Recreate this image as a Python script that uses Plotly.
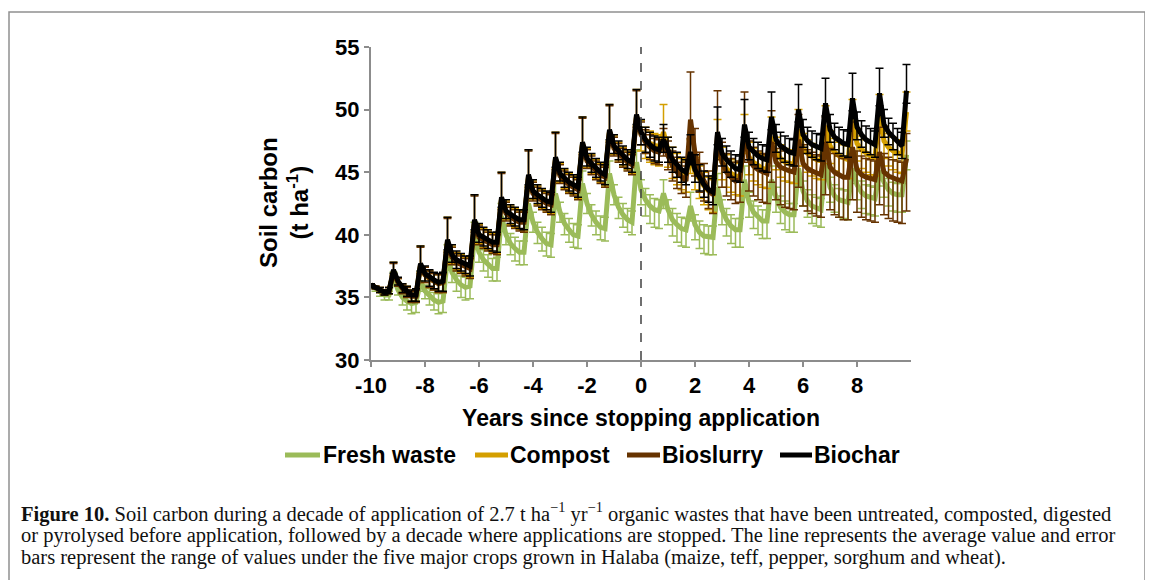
import plotly.graph_objects as go

# x grid: every 2 months from -10 to 9.83 years
years = [-10 + i / 6 for i in range(120)]

fresh_waste = [
    [36.0, 35.7, 35.4, 35.2, 35.2, 36.6],
    [35.6, 35.0, 34.7, 34.5, 34.6, 36.3],
    [35.5, 35.1, 34.8, 34.6, 34.7, 38.2],
    [37.0, 36.4, 36.0, 35.8, 35.9, 40.0],
    [38.6, 38.0, 37.6, 37.3, 37.3, 41.5],
    [40.0, 39.3, 38.9, 38.6, 38.6, 42.5],
    [41.0, 40.2, 39.7, 39.3, 39.2, 43.3],
    [41.8, 40.9, 40.4, 40.0, 39.9, 44.1],
    [42.5, 41.6, 41.0, 40.6, 40.5, 44.9],
    [43.2, 42.2, 41.6, 41.2, 41.0, 45.8],
    [43.6, 42.8, 42.3, 42.0, 41.9, 43.3],
    [42.0, 41.2, 40.8, 40.5, 40.4, 42.3],
    [40.8, 40.2, 39.9, 39.8, 39.8, 43.8],
    [42.0, 41.2, 40.7, 40.4, 40.4, 44.4],
    [42.6, 41.8, 41.4, 41.1, 41.1, 44.4],
    [43.0, 42.2, 41.8, 41.6, 41.6, 45.3],
    [43.5, 42.7, 42.3, 42.1, 42.0, 45.7],
    [43.8, 43.1, 42.8, 42.7, 42.6, 45.3],
    [44.0, 43.4, 43.1, 43.0, 42.9, 45.1],
    [44.2, 43.6, 43.3, 43.2, 43.2, 46.4],
]
fresh_up = [
    [0.1, 0.1, 0.2, 0.3, 0.3, 0.4],
    [0.3, 0.4, 0.5, 0.5, 0.6, 0.8],
    [0.5, 0.6, 0.6, 0.7, 0.7, 1.0],
    [0.6, 0.7, 0.7, 0.8, 0.8, 1.0],
    [0.7, 0.8, 0.8, 0.8, 0.9, 1.0],
    [0.8, 0.8, 0.9, 0.9, 0.9, 1.0],
    [0.8, 0.8, 0.9, 0.9, 0.9, 1.0],
    [0.8, 0.8, 0.9, 0.9, 0.9, 1.0],
    [0.8, 0.8, 0.9, 0.9, 0.9, 1.0],
    [0.8, 0.8, 0.9, 0.9, 0.9, 1.0],
    [0.8, 0.9, 0.9, 0.9, 0.9, 1.1],
    [0.8, 0.9, 0.9, 0.9, 0.9, 1.1],
    [0.8, 0.9, 0.9, 0.9, 0.9, 1.1],
    [0.8, 0.9, 0.9, 0.9, 0.9, 1.1],
    [0.8, 0.9, 0.9, 0.9, 0.9, 1.1],
    [0.8, 0.9, 0.9, 0.9, 0.9, 1.1],
    [0.8, 0.9, 0.9, 0.9, 0.9, 1.1],
    [0.8, 0.9, 0.9, 0.9, 0.9, 1.1],
    [0.8, 0.9, 0.9, 0.9, 0.9, 1.1],
    [0.8, 0.9, 0.9, 0.9, 0.9, 1.1],
]
fresh_dn = [
    [0.1, 0.2, 0.3, 0.4, 0.4, 0.4],
    [0.4, 0.6, 0.7, 0.8, 0.8, 0.8],
    [0.6, 0.7, 0.8, 0.9, 0.9, 0.9],
    [0.8, 0.9, 1.0, 1.0, 1.0, 1.0],
    [0.8, 0.9, 1.0, 1.0, 1.0, 1.0],
    [0.8, 0.9, 1.0, 1.0, 1.0, 1.0],
    [0.8, 0.9, 1.0, 1.0, 1.0, 1.0],
    [0.8, 0.9, 1.0, 1.0, 1.0, 1.0],
    [0.8, 0.9, 1.0, 1.0, 1.0, 1.0],
    [0.8, 0.9, 1.0, 1.0, 1.0, 1.0],
    [1.2, 1.3, 1.4, 1.4, 1.4, 1.2],
    [1.2, 1.3, 1.4, 1.4, 1.4, 1.2],
    [1.2, 1.3, 1.4, 1.4, 1.4, 1.2],
    [1.2, 1.3, 1.4, 1.4, 1.4, 1.2],
    [1.2, 1.3, 1.4, 1.4, 1.4, 1.2],
    [1.2, 1.3, 1.4, 1.4, 1.4, 1.2],
    [1.2, 1.3, 1.4, 1.4, 1.4, 1.2],
    [1.2, 1.3, 1.4, 1.4, 1.4, 1.2],
    [1.2, 1.3, 1.4, 1.4, 1.4, 1.2],
    [1.2, 1.3, 1.4, 1.4, 1.4, 1.2],
]

compost = [
    [36.0, 35.8, 35.6, 35.4, 35.5, 37.1],
    [36.2, 35.8, 35.5, 35.2, 35.2, 37.6],
    [36.8, 36.5, 36.3, 36.1, 36.2, 39.5],
    [38.3, 37.9, 37.7, 37.5, 37.4, 41.1],
    [39.9, 39.7, 39.5, 39.3, 39.3, 42.9],
    [41.8, 41.5, 41.3, 41.1, 41.1, 44.7],
    [43.4, 43.1, 42.8, 42.6, 42.5, 46.1],
    [44.8, 44.4, 44.1, 43.9, 43.7, 47.3],
    [46.0, 45.6, 45.2, 44.9, 44.7, 48.3],
    [47.0, 46.6, 46.2, 45.9, 45.7, 49.5],
    [48.1, 47.6, 47.3, 47.1, 47.0, 48.2],
    [46.8, 46.0, 45.5, 45.1, 44.9, 46.4],
    [45.0, 44.4, 43.9, 43.5, 43.3, 47.6],
    [45.8, 45.3, 44.9, 44.7, 44.6, 48.0],
    [46.2, 45.8, 45.5, 45.3, 45.2, 47.8],
    [46.6, 46.1, 45.8, 45.7, 45.6, 48.4],
    [46.9, 46.5, 46.2, 46.0, 45.9, 48.7],
    [47.1, 46.6, 46.3, 46.1, 46.0, 49.2],
    [47.3, 46.8, 46.5, 46.3, 46.2, 49.6],
    [47.5, 47.0, 46.7, 46.5, 46.4, 49.8],
]
compost_up = [
    [0.1, 0.1, 0.2, 0.2, 0.3, 0.7],
    [0.3, 0.3, 0.4, 0.4, 0.5, 1.5],
    [0.6, 0.6, 0.6, 0.7, 0.7, 1.9],
    [0.8, 0.7, 0.7, 0.7, 0.8, 2.1],
    [0.9, 0.8, 0.8, 0.8, 0.8, 2.1],
    [0.9, 0.8, 0.8, 0.8, 0.8, 2.1],
    [0.9, 0.8, 0.8, 0.8, 0.8, 2.1],
    [0.9, 0.8, 0.8, 0.8, 0.8, 2.1],
    [0.9, 0.8, 0.8, 0.8, 0.8, 2.1],
    [0.9, 0.8, 0.8, 0.8, 0.8, 2.1],
    [1.0, 1.0, 1.0, 1.0, 1.0, 2.2],
    [1.0, 1.0, 1.0, 1.0, 1.0, 1.2],
    [1.2, 1.1, 1.1, 1.1, 1.1, 1.6],
    [1.2, 1.1, 1.1, 1.1, 1.1, 1.6],
    [1.2, 1.1, 1.1, 1.1, 1.1, 1.6],
    [1.2, 1.1, 1.1, 1.1, 1.1, 1.6],
    [1.2, 1.1, 1.1, 1.1, 1.1, 1.6],
    [1.2, 1.1, 1.1, 1.1, 1.1, 1.6],
    [1.2, 1.1, 1.1, 1.1, 1.1, 1.6],
    [1.2, 1.1, 1.1, 1.1, 1.1, 1.6],
]
compost_dn = [
    [0.1, 0.1, 0.2, 0.2, 0.2, 0.3],
    [0.3, 0.4, 0.4, 0.5, 0.5, 0.6],
    [0.6, 0.7, 0.7, 0.7, 0.8, 0.8],
    [0.6, 0.7, 0.7, 0.7, 0.8, 0.8],
    [0.6, 0.7, 0.7, 0.7, 0.8, 0.8],
    [0.6, 0.7, 0.7, 0.7, 0.8, 0.8],
    [0.6, 0.7, 0.7, 0.7, 0.8, 0.8],
    [0.6, 0.7, 0.7, 0.7, 0.8, 0.8],
    [0.6, 0.7, 0.7, 0.7, 0.8, 0.8],
    [0.6, 0.7, 0.7, 0.7, 0.8, 0.8],
    [1.4, 1.5, 1.5, 1.5, 1.5, 1.5],
    [1.4, 1.5, 1.5, 1.5, 1.5, 1.5],
    [1.4, 1.5, 1.5, 1.5, 1.5, 1.5],
    [1.4, 1.5, 1.5, 1.5, 1.5, 1.5],
    [1.4, 1.5, 1.5, 1.5, 1.5, 1.5],
    [1.4, 1.5, 1.5, 1.5, 1.5, 1.5],
    [1.4, 1.5, 1.5, 1.5, 1.5, 1.5],
    [1.4, 1.5, 1.5, 1.5, 1.5, 1.5],
    [1.4, 1.5, 1.5, 1.5, 1.5, 1.5],
    [1.4, 1.5, 1.5, 1.5, 1.5, 1.5],
]

bioslurry = [
    [36.0, 35.8, 35.6, 35.4, 35.5, 37.0],
    [36.2, 35.7, 35.4, 35.1, 35.1, 37.5],
    [36.8, 36.5, 36.3, 36.1, 36.2, 39.4],
    [38.2, 37.8, 37.6, 37.4, 37.3, 41.0],
    [39.8, 39.6, 39.4, 39.2, 39.2, 42.8],
    [41.7, 41.4, 41.2, 41.0, 41.0, 44.6],
    [43.3, 43.0, 42.7, 42.5, 42.4, 46.0],
    [44.7, 44.3, 44.0, 43.8, 43.6, 47.2],
    [45.9, 45.5, 45.1, 44.8, 44.6, 48.2],
    [46.9, 46.5, 46.1, 45.8, 45.6, 49.4],
    [48.0, 47.4, 47.0, 46.7, 46.6, 47.3],
    [46.3, 45.5, 45.0, 44.6, 44.3, 49.2],
    [46.5, 45.0, 44.2, 43.6, 43.2, 48.0],
    [45.8, 45.0, 44.6, 44.3, 44.4, 48.4],
    [46.0, 45.5, 45.2, 45.0, 44.9, 47.4],
    [45.8, 45.4, 45.2, 45.1, 45.0, 47.6],
    [45.7, 45.3, 45.1, 44.9, 44.8, 47.4],
    [45.4, 45.0, 44.8, 44.6, 44.6, 47.0],
    [45.2, 44.8, 44.6, 44.5, 44.4, 46.6],
    [45.0, 44.7, 44.5, 44.4, 44.3, 46.1],
]
bioslurry_up = [
    [0.1, 0.1, 0.2, 0.2, 0.3, 0.7],
    [0.3, 0.3, 0.4, 0.4, 0.5, 1.5],
    [0.6, 0.6, 0.6, 0.7, 0.7, 1.9],
    [0.8, 0.7, 0.7, 0.7, 0.8, 2.1],
    [0.9, 0.8, 0.8, 0.8, 0.8, 2.1],
    [0.9, 0.8, 0.8, 0.8, 0.8, 2.1],
    [0.9, 0.8, 0.8, 0.8, 0.8, 2.1],
    [0.9, 0.8, 0.8, 0.8, 0.8, 2.1],
    [0.9, 0.8, 0.8, 0.8, 0.8, 2.1],
    [0.9, 0.8, 0.8, 0.8, 0.8, 2.1],
    [1.0, 1.0, 1.0, 1.0, 1.0, 1.2],
    [1.2, 1.2, 1.2, 1.2, 1.2, 3.8],
    [2.0, 1.6, 1.5, 1.5, 1.5, 3.5],
    [1.6, 1.5, 1.5, 1.5, 1.5, 3.0],
    [1.5, 1.5, 1.5, 1.5, 1.5, 2.5],
    [1.5, 1.5, 1.5, 1.5, 1.5, 2.0],
    [1.5, 1.5, 1.5, 1.5, 1.5, 2.0],
    [1.5, 1.5, 1.5, 1.5, 1.5, 2.0],
    [1.5, 1.5, 1.5, 1.5, 1.5, 2.0],
    [1.5, 1.5, 1.5, 1.5, 1.5, 2.0],
]
bioslurry_dn = [
    [0.1, 0.1, 0.2, 0.2, 0.2, 0.3],
    [0.3, 0.4, 0.4, 0.5, 0.5, 0.6],
    [0.6, 0.7, 0.7, 0.7, 0.8, 0.8],
    [0.6, 0.7, 0.7, 0.7, 0.8, 0.8],
    [0.6, 0.7, 0.7, 0.7, 0.8, 0.8],
    [0.6, 0.7, 0.7, 0.7, 0.8, 0.8],
    [0.6, 0.7, 0.7, 0.7, 0.8, 0.8],
    [0.6, 0.7, 0.7, 0.7, 0.8, 0.8],
    [0.6, 0.7, 0.7, 0.7, 0.8, 0.8],
    [0.6, 0.7, 0.7, 0.7, 0.8, 0.8],
    [0.8, 0.9, 1.0, 1.0, 1.0, 1.0],
    [1.1, 1.2, 1.3, 1.3, 1.3, 1.5],
    [1.8, 1.6, 1.5, 1.5, 1.5, 2.0],
    [2.0, 1.9, 1.8, 1.8, 1.8, 2.6],
    [2.5, 2.4, 2.4, 2.4, 2.4, 3.2],
    [3.0, 3.0, 3.0, 3.0, 3.0, 3.8],
    [3.4, 3.4, 3.4, 3.4, 3.4, 4.2],
    [3.4, 3.4, 3.4, 3.4, 3.4, 4.2],
    [3.4, 3.4, 3.4, 3.4, 3.4, 4.2],
    [3.4, 3.4, 3.4, 3.4, 3.4, 4.2],
]

biochar = [
    [36.0, 35.8, 35.6, 35.4, 35.5, 37.2],
    [36.3, 35.8, 35.5, 35.2, 35.2, 37.7],
    [36.9, 36.6, 36.4, 36.2, 36.3, 39.6],
    [38.4, 38.0, 37.8, 37.6, 37.5, 41.2],
    [40.0, 39.8, 39.6, 39.4, 39.4, 43.0],
    [41.9, 41.6, 41.4, 41.2, 41.2, 44.8],
    [43.5, 43.2, 42.9, 42.7, 42.6, 46.2],
    [44.9, 44.5, 44.2, 44.0, 43.8, 47.4],
    [46.1, 45.7, 45.3, 45.0, 44.8, 48.4],
    [47.1, 46.7, 46.3, 46.0, 45.8, 49.6],
    [48.2, 47.6, 47.2, 46.9, 46.8, 47.6],
    [46.8, 46.0, 45.6, 45.2, 45.0, 46.6],
    [45.2, 44.5, 44.0, 43.6, 43.4, 48.2],
    [46.5, 46.0, 45.6, 45.3, 45.2, 48.8],
    [47.0, 46.6, 46.3, 46.1, 46.0, 49.4],
    [47.6, 47.1, 46.8, 46.6, 46.5, 50.0],
    [48.0, 47.5, 47.2, 47.0, 46.9, 50.5],
    [48.4, 47.8, 47.5, 47.3, 47.2, 50.9],
    [48.6, 48.0, 47.6, 47.4, 47.2, 51.3],
    [48.8, 48.2, 47.8, 47.4, 47.1, 51.5],
]
biochar_up = [
    [0.1, 0.1, 0.2, 0.2, 0.3, 0.6],
    [0.3, 0.3, 0.4, 0.4, 0.5, 1.4],
    [0.6, 0.6, 0.6, 0.7, 0.7, 1.8],
    [0.8, 0.7, 0.7, 0.7, 0.8, 2.0],
    [0.9, 0.8, 0.8, 0.8, 0.8, 2.0],
    [0.9, 0.8, 0.8, 0.8, 0.8, 2.0],
    [0.9, 0.8, 0.8, 0.8, 0.8, 2.0],
    [0.9, 0.8, 0.8, 0.8, 0.8, 2.0],
    [0.9, 0.8, 0.8, 0.8, 0.8, 2.0],
    [0.9, 0.8, 0.8, 0.8, 0.8, 2.0],
    [1.0, 1.0, 1.0, 1.0, 1.0, 1.2],
    [1.0, 1.0, 1.0, 1.0, 1.0, 1.4],
    [1.2, 1.1, 1.1, 1.1, 1.1, 2.0],
    [1.2, 1.1, 1.1, 1.1, 1.1, 2.0],
    [1.2, 1.1, 1.1, 1.1, 1.1, 2.0],
    [1.2, 1.1, 1.1, 1.1, 1.1, 2.0],
    [1.2, 1.1, 1.1, 1.1, 1.1, 2.0],
    [1.2, 1.1, 1.1, 1.1, 1.1, 2.0],
    [1.2, 1.1, 1.1, 1.1, 1.1, 2.0],
    [1.2, 1.1, 1.1, 1.1, 1.1, 2.1],
]
biochar_dn = [
    [0.1, 0.1, 0.2, 0.2, 0.2, 0.3],
    [0.3, 0.4, 0.4, 0.5, 0.5, 0.6],
    [0.6, 0.7, 0.7, 0.7, 0.8, 0.8],
    [0.6, 0.7, 0.7, 0.7, 0.8, 0.8],
    [0.6, 0.7, 0.7, 0.7, 0.8, 0.8],
    [0.6, 0.7, 0.7, 0.7, 0.8, 0.8],
    [0.6, 0.7, 0.7, 0.7, 0.8, 0.8],
    [0.6, 0.7, 0.7, 0.7, 0.8, 0.8],
    [0.6, 0.7, 0.7, 0.7, 0.8, 0.8],
    [0.6, 0.7, 0.7, 0.7, 0.8, 0.8],
    [1.0, 1.0, 1.0, 1.0, 1.0, 1.0],
    [1.0, 1.0, 1.0, 1.0, 1.0, 1.0],
    [1.0, 1.0, 1.0, 1.0, 1.0, 1.0],
    [1.0, 1.0, 1.0, 1.0, 1.0, 1.0],
    [1.0, 1.0, 1.0, 1.0, 1.0, 1.0],
    [1.0, 1.0, 1.0, 1.0, 1.0, 1.0],
    [1.0, 1.0, 1.0, 1.0, 1.0, 1.0],
    [1.0, 1.0, 1.0, 1.0, 1.0, 1.0],
    [1.0, 1.0, 1.0, 1.0, 1.0, 1.0],
    [1.0, 1.0, 1.0, 1.0, 1.0, 1.0],
]

series_names = ["Fresh waste", "Compost", "Bioslurry", "Biochar"]
series_colors = ["#9BBB59", "#D49F00", "#663300", "#000000"]
x_tick_values = [-10, -8, -6, -4, -2, 0, 2, 4, 6, 8]
y_tick_values = [30, 35, 40, 45, 50, 55]


def flat(rows):
    return [v for r in rows for v in r]


series_data = [
    (fresh_waste, fresh_up, fresh_dn),
    (compost, compost_up, compost_dn),
    (bioslurry, bioslurry_up, bioslurry_dn),
    (biochar, biochar_up, biochar_dn),
]

FONT = "Liberation Sans, Arial, sans-serif"
AXIS_GREY = "#8C8C8C"

fig = go.Figure()
for name, color, (vals, up, dn) in zip(series_names, series_colors, series_data):
    fig.add_trace(go.Scatter(
        x=years, y=flat(vals), name=name, mode="lines",
        line=dict(color=color, width=5),
        error_y=dict(type="data", symmetric=False, array=flat(up), arrayminus=flat(dn),
                     color=color, thickness=1.5, width=4),
        showlegend=False,
    ))

# The page body has an 8px margin, so the figure starts at screen (8, 8).
OFF = 8
W, H = 1153 - OFF, 580 - OFF
PLOT_X0, PLOT_X1, PLOT_Y0, PLOT_Y1 = 371, 911, 47, 360   # screen pixels of the plot area
L = PLOT_X0 - OFF
R = W - (PLOT_X1 - OFF)
T = PLOT_Y0 - OFF
B = H - (PLOT_Y1 - OFF)
pw, ph = PLOT_X1 - PLOT_X0, PLOT_Y1 - PLOT_Y0


def px_x(p):
    return (p - PLOT_X0) / pw


def px_y(p):
    return (PLOT_Y1 - p) / ph


fig.update_layout(
    width=W, height=H,
    margin=dict(l=L, r=R, t=T, b=B, pad=0, autoexpand=False),
    paper_bgcolor="white", plot_bgcolor="white",
    font=dict(family=FONT, color="black"),
    showlegend=False,
    xaxis=dict(range=[-10, 10], tickvals=x_tick_values, ticktext=[str(v) for v in x_tick_values],
               showgrid=False, zeroline=False, showline=True, linecolor=AXIS_GREY, linewidth=2,
               ticks="outside", ticklen=5, tickcolor=AXIS_GREY, tickwidth=1.5, automargin=False,
               tickfont=dict(family=FONT, size=22, weight="bold", color="black"),
               title=dict(text="Years since stopping application", standoff=12,
                          font=dict(family=FONT, size=23, weight="bold", color="black"))),
    yaxis=dict(range=[30, 55], tickvals=y_tick_values, showgrid=False, zeroline=False,
               showline=True, linecolor=AXIS_GREY, linewidth=2, automargin=False,
               ticks="outside", ticklen=5, tickcolor=AXIS_GREY, tickwidth=1.5,
               tickfont=dict(family=FONT, size=22, weight="bold", color="black")),
)

# dashed line at stopping point
fig.add_shape(type="line", xref="x", yref="y", x0=0, x1=0, y0=30, y1=55,
              line=dict(color="#404040", width=1.5, dash="dash"), layer="above")

# figure frame
fig.add_shape(type="rect", xref="paper", yref="paper",
              x0=px_x(9), x1=px_x(1145), y0=px_y(600), y1=px_y(12),
              line=dict(color="#909090", width=1.5), fillcolor="rgba(0,0,0,0)", layer="below")

# manual legend (single row, as in the reference)
legend_line_px = [(285, 320), (475, 508), (627, 660), (780, 812)]
legend_text_px = [322, 509, 661, 813]
legend_y = 455
for name, color, (a, b), tx in zip(series_names, series_colors, legend_line_px, legend_text_px):
    fig.add_shape(type="line", xref="paper", yref="paper",
                  x0=px_x(a), x1=px_x(b), y0=px_y(legend_y), y1=px_y(legend_y),
                  line=dict(color=color, width=5))
    fig.add_annotation(xref="paper", yref="paper", x=px_x(tx), y=px_y(legend_y),
                       xanchor="left", yanchor="middle", showarrow=False, text=name,
                       borderpad=0,
                       font=dict(family=FONT, size=23, weight="bold", color="black"))

# y axis title
fig.add_annotation(xref="paper", yref="paper", x=px_x(284), y=px_y(203),
                   xanchor="center", yanchor="middle", textangle=-90, showarrow=False,
                   text="Soil carbon<br>(t ha<sup>-1</sup>)",
                   font=dict(family=FONT, size=24, weight="bold", color="black"))

caption_lines = [
    "<b>Figure 10.</b> Soil carbon during a decade of application of 2.7 t ha<sup>\u22121</sup> yr<sup>\u22121</sup> organic wastes that have been untreated, composted, digested",
    "or pyrolysed before application, followed by a decade where applications are stopped. The line represents the average value and error",
    "bars represent the range of values under the five major crops grown in Halaba (maize, teff, pepper, sorghum and wheat).",
]
caption_y = [512, 535, 557]
for line, yy in zip(caption_lines, caption_y):
    fig.add_annotation(xref="paper", yref="paper", x=px_x(20), y=px_y(yy),
                       xanchor="left", yanchor="middle", showarrow=False, align="left",
                       borderpad=0,
                       text=line, font=dict(family="Liberation Serif, Times New Roman, serif",
                                            size=20.5, color="#111111"))

fig.write_html("out.html")
